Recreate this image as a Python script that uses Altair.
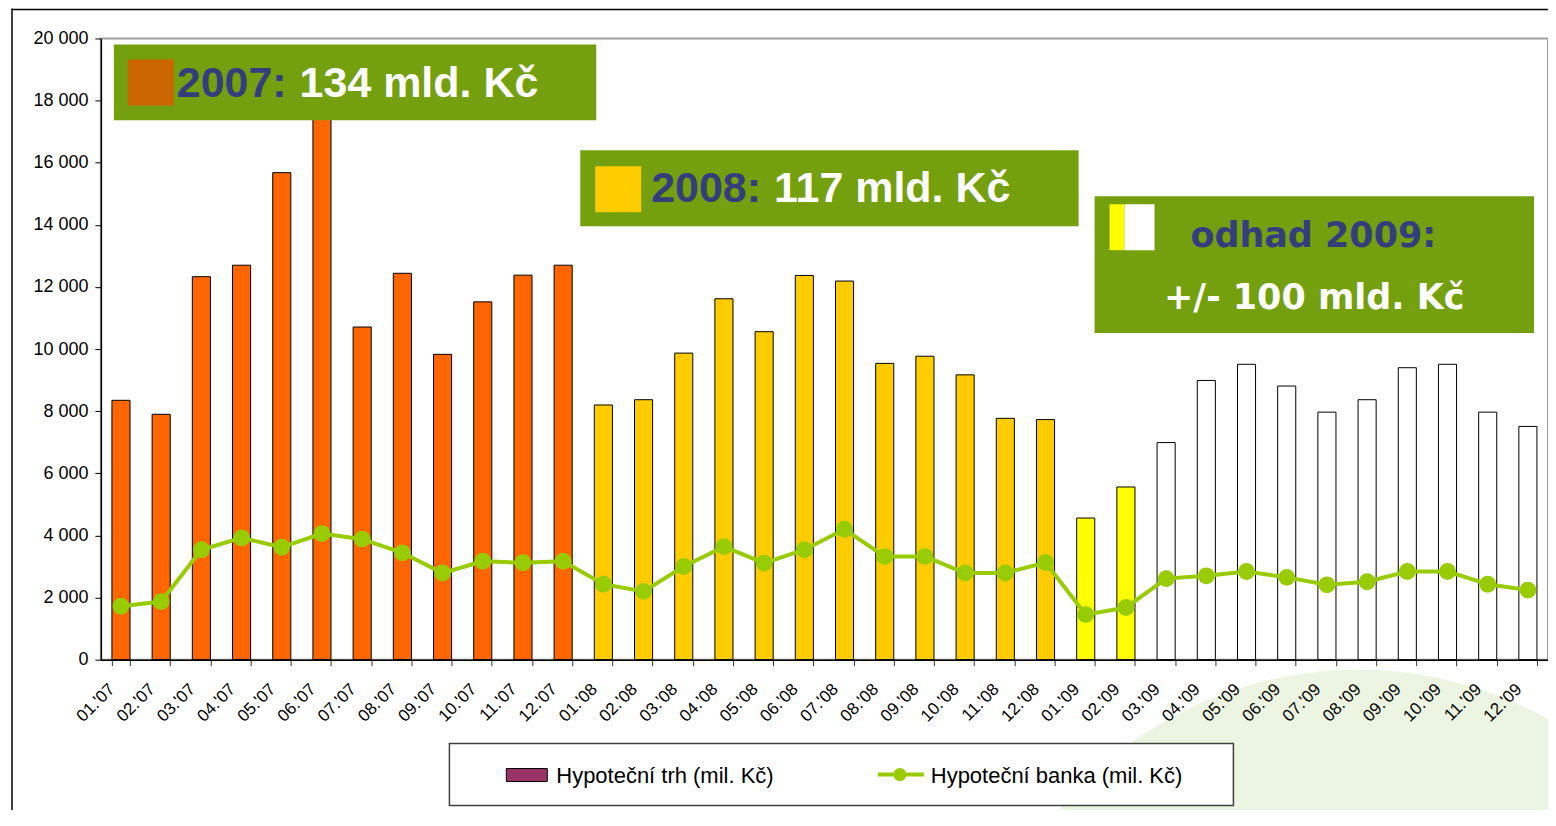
import altair as alt
import pandas as pd

months = ["01.'07", "02.'07", "03.'07", "04.'07", "05.'07", "06.'07",
          "07.'07", "08.'07", "09.'07", "10.'07", "11.'07", "12.'07",
          "01.'08", "02.'08", "03.'08", "04.'08", "05.'08", "06.'08",
          "07.'08", "08.'08", "09.'08", "10.'08", "11.'08", "12.'08",
          "01.'09", "02.'09", "03.'09", "04.'09", "05.'09", "06.'09",
          "07.'09", "08.'09", "09.'09", "10.'09", "11.'09", "12.'09"]

trh_2007 = [8350, 7900, 12330, 12700, 15680, 19000, 10710, 12440, 9830, 11520, 12380, 12700]
trh_2008 = [8200, 8370, 9870, 11620, 10560, 12370, 12190, 9540, 9770, 9170, 7770, 7730]
trh_2009 = [4560, 5560, 6990, 8990, 9510, 8810, 7970, 8370, 9400, 9510, 7970, 7510]

banka_2007 = [1720, 1870, 3540, 3920, 3620, 4060, 3880, 3440, 2790, 3170, 3120, 3170]
banka_2008 = [2430, 2200, 3000, 3640, 3110, 3540, 4200, 3320, 3320, 2790, 2790, 3130]
banka_2009 = [1450, 1680, 2610, 2700, 2840, 2650, 2410, 2510, 2840, 2840, 2430, 2240]

period = ["2007"] * 12 + ["2008"] * 12 + ["2009a"] * 2 + ["2009b"] * 10
period_domain = ["2007", "2008", "2009a", "2009b"]
period_colors = ["#FF6600", "#FFCC00", "#FFFF00", "#FFFFFF"]

y_ticks = [0, 2000, 4000, 6000, 8000, 10000, 12000, 14000, 16000, 18000, 20000]

legend_trh = "Hypoteční trh (mil. Kč)"
legend_banka = "Hypoteční banka (mil. Kč)"

FONT = "Liberation Sans"
GREEN_BOX = "#74A00E"
NAVY = "#343E7C"
LINE_GREEN = "#99CC00"
LEAF = "#ECF5E1"

df = pd.DataFrame({
    "month": months,
    "trh": trh_2007 + trh_2008 + trh_2009,
    "banka": banka_2007 + banka_2008 + banka_2009,
    "period": period,
})

W, H = 1449, 622

x_enc = alt.X(
    "month:N", sort=months,
    scale=alt.Scale(type="band", paddingInner=0.55, paddingOuter=0.275),
    axis=alt.Axis(title=None, labelAngle=-45, tickBand="extent", labelFont=FONT,
                  labelFontSize=17, labelColor="black", tickColor="#333333",
                  tickSize=6, domainColor="black", domainWidth=1.5, labelPadding=15,
                  labelOffset=-15, zindex=1),
)
y_scale = alt.Scale(domain=[0, 20000], nice=False, zero=True)
y_axis = alt.Axis(title=None, values=y_ticks, grid=False, labelFont=FONT, labelFontSize=18,
                  labelColor="black", tickColor="black", tickSize=6, domainColor="black",
                  domainWidth=1.5, labelPadding=7, zindex=1,
                  labelExpr="replace(format(datum.value, ','), ',', ' ')")

base = alt.Chart(df)

bars = base.mark_bar(stroke="black", strokeWidth=1).encode(
    x=x_enc,
    y=alt.Y("trh:Q", scale=y_scale, axis=y_axis),
    color=alt.Color("period:N", scale=alt.Scale(domain=period_domain, range=period_colors), legend=None),
)
line = base.mark_line(color=LINE_GREEN, strokeWidth=4).encode(
    x=alt.X("month:N", sort=months), y=alt.Y("banka:Q"))
points = base.mark_point(filled=True, color=LINE_GREEN, size=285, opacity=1).encode(
    x=alt.X("month:N", sort=months), y=alt.Y("banka:Q"))

one = pd.DataFrame({"a": [0]})


def box(x1, x2, y1, y2, fill, stroke=None, sw=0):
    kw = dict(fill=fill)
    if stroke:
        kw.update(stroke=stroke, strokeWidth=sw)
    return alt.Chart(one).mark_rect(**kw).encode(
        x=alt.value(x1), x2=alt.value(x2), y=alt.value(y1), y2=alt.value(y2))


def label(x, y, txt, color, size, font=FONT, bold=True, align="left"):
    return alt.Chart(one).mark_text(
        text=txt, font=font, fontSize=size, fontWeight="bold" if bold else "normal",
        color=color, align=align, baseline="alphabetic").encode(x=alt.value(x), y=alt.value(y))


def blob(cx, cy, diameter, color):
    return alt.Chart(one).mark_point(
        filled=True, shape="circle", color=color, opacity=1, size=diameter * diameter,
        strokeWidth=0).encode(x=alt.value(cx), y=alt.value(cy))


ox, oy = 101, 38  # plot origin in page px

# faint leaf watermark in the lower right corner
decor = [
    blob(1360 - ox, 1060 - oy, 780, LEAF),
    blob(1250 - ox, 1050 - oy, 440, "#FFFFFF"),
]

ann = [
    box(114 - ox, 597 - ox, 44 - oy, 120 - oy, GREEN_BOX),
    box(128 - ox, 174 - ox, 59 - oy, 105 - oy, "#CC6600"),
    label(177 - ox, 97 - oy, "2007:", NAVY, 43),
    label(300 - ox, 97 - oy, "134 mld. Kč", "white", 43),
    box(581 - ox, 1080 - ox, 150 - oy, 226 - oy, GREEN_BOX),
    box(596 - ox, 642 - ox, 166 - oy, 212 - oy, "#FFCC00"),
    label(652 - ox, 202 - oy, "2008:", NAVY, 43),
    label(775 - ox, 202 - oy, "117 mld. Kč", "white", 43),
    box(1096 - ox, 1536 - ox, 196 - oy, 333 - oy, GREEN_BOX),
    box(1111 - ox, 1126 - ox, 204 - oy, 250 - oy, "#FFFF00"),
    box(1126 - ox, 1156 - ox, 204 - oy, 250 - oy, "#FFFFFF"),
    label(1315 - ox, 247 - oy, "odhad 2009:", NAVY, 35, font="DejaVu Sans", align="center"),
    label(1316 - ox, 309 - oy, "+/- 100 mld. Kč", "white", 35, font="DejaVu Sans", align="center"),
]

legend = [
    box(450 - ox, 1235 - ox, 744 - oy, 806 - oy, "white", "#404040", 1.5),
    box(507 - ox, 548 - ox, 769 - oy, 782 - oy, "#993366", "black", 1),
    label(557 - ox, 783 - oy, legend_trh, "black", 22, bold=False),
    alt.Chart(one).mark_rule(color=LINE_GREEN, strokeWidth=4).encode(
        x=alt.value(879 - ox), x2=alt.value(925 - ox), y=alt.value(775 - oy)),
    alt.Chart(one).mark_point(filled=True, color=LINE_GREEN, size=170, opacity=1).encode(
        x=alt.value(901 - ox), y=alt.value(775 - oy)),
    label(932 - ox, 783 - oy, legend_banka, "black", 22, bold=False),
]

frame = [
    alt.Chart(one).mark_rule(color="black", strokeWidth=1.5).encode(
        x=alt.value(12 - ox), y=alt.value(8 - oy), y2=alt.value(812 - oy)),
    alt.Chart(one).mark_rule(color="black", strokeWidth=1.5).encode(
        x=alt.value(12 - ox), x2=alt.value(1550 - ox), y=alt.value(9 - oy)),
]

chart = alt.layer(*decor, bars, line, points, *ann, *legend, *frame).properties(
    width=W, height=H,
    autosize=alt.AutoSizeParams(type="none"),
    padding={"left": 93, "top": 30, "right": 0, "bottom": 150},
    background="white",
).configure_view(stroke="#A0A0A0", strokeWidth=2)

chart.save("out.html", embed_options={"renderer": "svg", "actions": False})
